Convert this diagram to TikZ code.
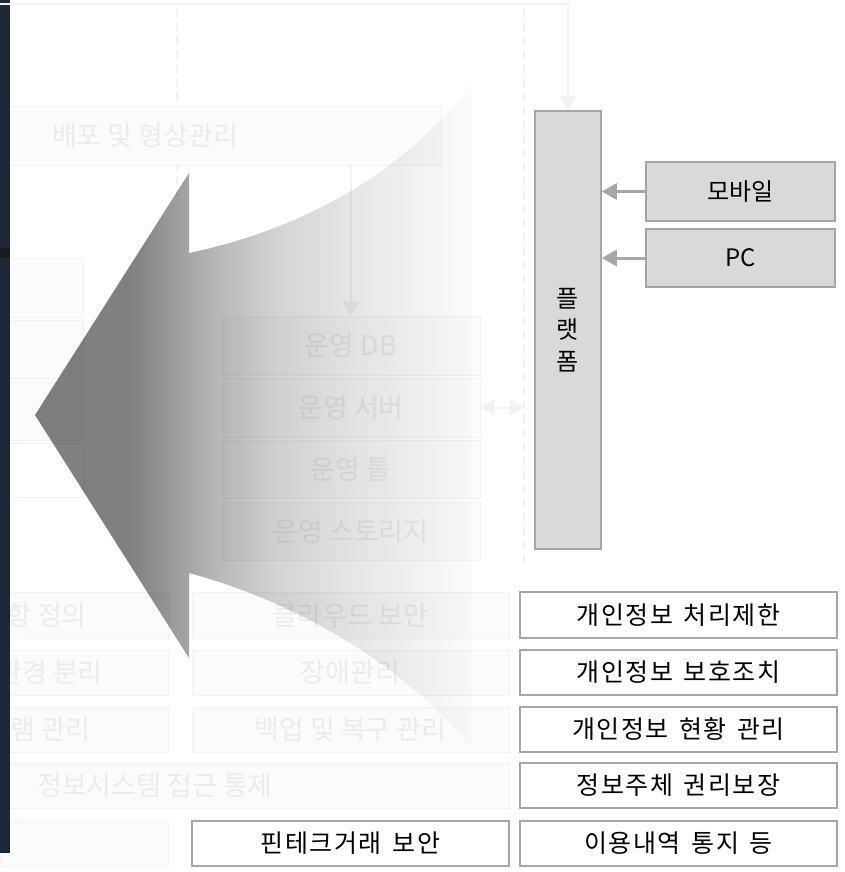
\documentclass[tikz,border=0pt]{standalone}
\usepackage{fontspec}
\setmainfont{Noto Sans CJK KR}
\newfontfamily\krwide[LetterSpace=6,WordSpace=1.5]{Noto Sans CJK KR}
\usetikzlibrary{arrows.meta}
\definecolor{strip}{HTML}{1F2637}
\definecolor{stripdark}{HTML}{161A23}
\definecolor{ffill}{HTML}{FBFBFB}
\definecolor{fline}{HTML}{F2F2F2}
\definecolor{ftext}{HTML}{EBEBEB}
\definecolor{gfill}{HTML}{D9D9D9}
\definecolor{gline}{HTML}{A6A6A6}
\pgfdeclarehorizontalshading{arrowshade}{100bp}{rgb(0bp)=(0.502,0.502,0.502); rgb(36bp)=(0.502,0.502,0.502); rgb(45.4bp)=(0.71,0.71,0.71); rgb(52.7bp)=(0.83,0.83,0.83); rgb(61bp)=(0.9,0.9,0.9); rgb(69bp)=(0.95,0.95,0.95); rgb(75bp)=(0.985,0.985,0.985); rgb(100bp)=(0.985,0.985,0.985)}
\tikzset{
 fbox/.style={draw=fline, fill=ffill, line width=1pt, inner sep=0pt},
 ftxt/.style={text=ftext, font=\fontsize{27}{31}\selectfont, inner sep=0pt},
 wbox/.style={draw=gline, fill=white, line width=1.5pt, inner sep=0pt, text=black, font=\krwide\fontsize{25}{29}\selectfont},
 gbox/.style={draw=gline, fill=gfill, line width=1.5pt, inner sep=0pt, text=black, font=\fontsize{24}{28}\selectfont},
 fconn/.style={draw=fline, line width=2pt},
 farrow/.style={fconn, -{Triangle[length=14pt,width=16pt]}},
 fdouble/.style={fconn, {Triangle[length=14pt,width=16pt]}-{Triangle[length=14pt,width=16pt]}},
 fdash/.style={draw=fline, line width=1.5pt, dash pattern=on 9pt off 5pt},
 garrow/.style={draw=gline, line width=3pt, -{Triangle[length=15pt,width=16pt]}},
}
\begin{document}
\begin{tikzpicture}[x=1pt,y=-1pt]
\fill[white] (0,0) rectangle (845,872);
\useasboundingbox (0,0) rectangle (845,872);

% ---------- faded background layer ----------
\coordinate (dLtop) at (177,8); \coordinate (dLbot) at (177,196);
\coordinate (dRtop) at (524,8); \coordinate (dRbot) at (524,565);
\draw[fdash] (dLtop) -- (dLbot);
\draw[fdash] (dRtop) -- (dRbot);

\node[fbox, minimum width=441, minimum height=58] (deploy) at (220.5,136) {};
\node[ftxt] (deploytxt) at (145,135) {배포 및 형상관리};

% left column
\node[fbox, minimum width=83, minimum height=59] (l1) at (41.5,287.5) {};
\node[fbox, minimum width=83, minimum height=58] (l2) at (41.5,349) {};
\node[fbox, minimum width=83, minimum height=58] (l3) at (41.5,411) {};
\node[fbox, fill=white, minimum width=83, minimum height=54] (l4) at (41.5,470) {};

% middle column
\node[fbox, ftxt, minimum width=258, minimum height=59] (db) at (351,345.5) {운영 DB};
\node[fbox, ftxt, minimum width=258, minimum height=59] (srv) at (351,407.5) {운영 서버};
\node[fbox, ftxt, minimum width=258, minimum height=58] (tool) at (351,469) {운영 툴};
\node[fbox, ftxt, minimum width=258, minimum height=58] (stor) at (351,531) {운영 스토리지};
\draw[farrow] (db.north |- deploy.south) -- (db.north);
\draw[fdouble] (srv.east) -- (srv.east -| dRtop);

% lower rows (faded)
\node[fbox, minimum width=168, minimum height=46] (ra1) at (84,615) {};
\node[fbox, minimum width=168, minimum height=45] (rb1) at (84,672.5) {};
\node[fbox, minimum width=168, minimum height=45] (rc1) at (84,729.5) {};
\node[fbox, minimum width=509, minimum height=45] (rd1) at (254.5,785.5) {};
\node[fbox, minimum width=168, minimum height=45] (re1) at (84,843.5) {};
\node[ftxt, anchor=east] (ta1) at (87,615) {항 정의};
\node[ftxt, anchor=east] (tb1) at (103,672) {환경 분리};
\node[ftxt, anchor=east] (tc1) at (91,729) {램 관리};
\node[ftxt] (td1) at (155,785) {정보시스템 접근 통제};
\node[fbox, ftxt, minimum width=317, minimum height=46] (ra2) at (350.5,615) {클라우드 보안};
\node[fbox, ftxt, minimum width=317, minimum height=45] (rb2) at (350.5,672.5) {장애관리};
\node[fbox, ftxt, minimum width=317, minimum height=45] (rc2) at (350.5,729.5) {백업 및 복구 관리};

% ---------- big gradient arrow ----------
\begin{scope}[blend mode=multiply]
\shade[shading=arrowshade, shading angle=0]
  (35,415) -- (189,173) -- (189,253)
  .. controls (290,232) and (400,180) .. (472,83)
  -- (472,748)
  .. controls (400,660) and (290,600) .. (189,573)
  -- (189,658) -- cycle;
\end{scope}

% dark left strip
\fill[strip] (0,0) rectangle (10,853);
\fill[stripdark] (0,248) rectangle (10,258);

% ---------- right part ----------
\node[gbox, minimum width=66, minimum height=438, align=center, font=\fontsize{24}{31.5}\selectfont] (plat) at (568,330) {플\\랫\\폼};
\node[gbox, minimum width=189, minimum height=59] (mob) at (740.5,191.5) {모바일};
\node[gbox, minimum width=189, minimum height=58] (pc) at (740.5,258) {PC};
\draw[garrow] (mob.west) -- (mob.west -| plat.east);
\draw[garrow] (pc.west) -- (pc.west -| plat.east);

\coordinate (topstart) at (0,4);
\draw[farrow] (topstart) -| (plat.north);

\node[wbox, minimum width=317, minimum height=46] (ra3) at (678.5,615) {개인정보 처리제한};
\node[wbox, minimum width=317, minimum height=45] (rb3) at (678.5,672.5) {개인정보 보호조치};
\node[wbox, minimum width=317, minimum height=45] (rc3) at (678.5,729.5) {개인정보 현황 관리};
\node[wbox, minimum width=317, minimum height=45] (rd3) at (678.5,785.5) {정보주체 권리보장};
\node[wbox, minimum width=317, minimum height=45] (re3) at (678.5,843.5) {이용내역 통지 등};
\node[wbox, minimum width=317, minimum height=45] (re2) at (350.5,843.5) {핀테크거래 보안};
\end{tikzpicture}
\end{document}
